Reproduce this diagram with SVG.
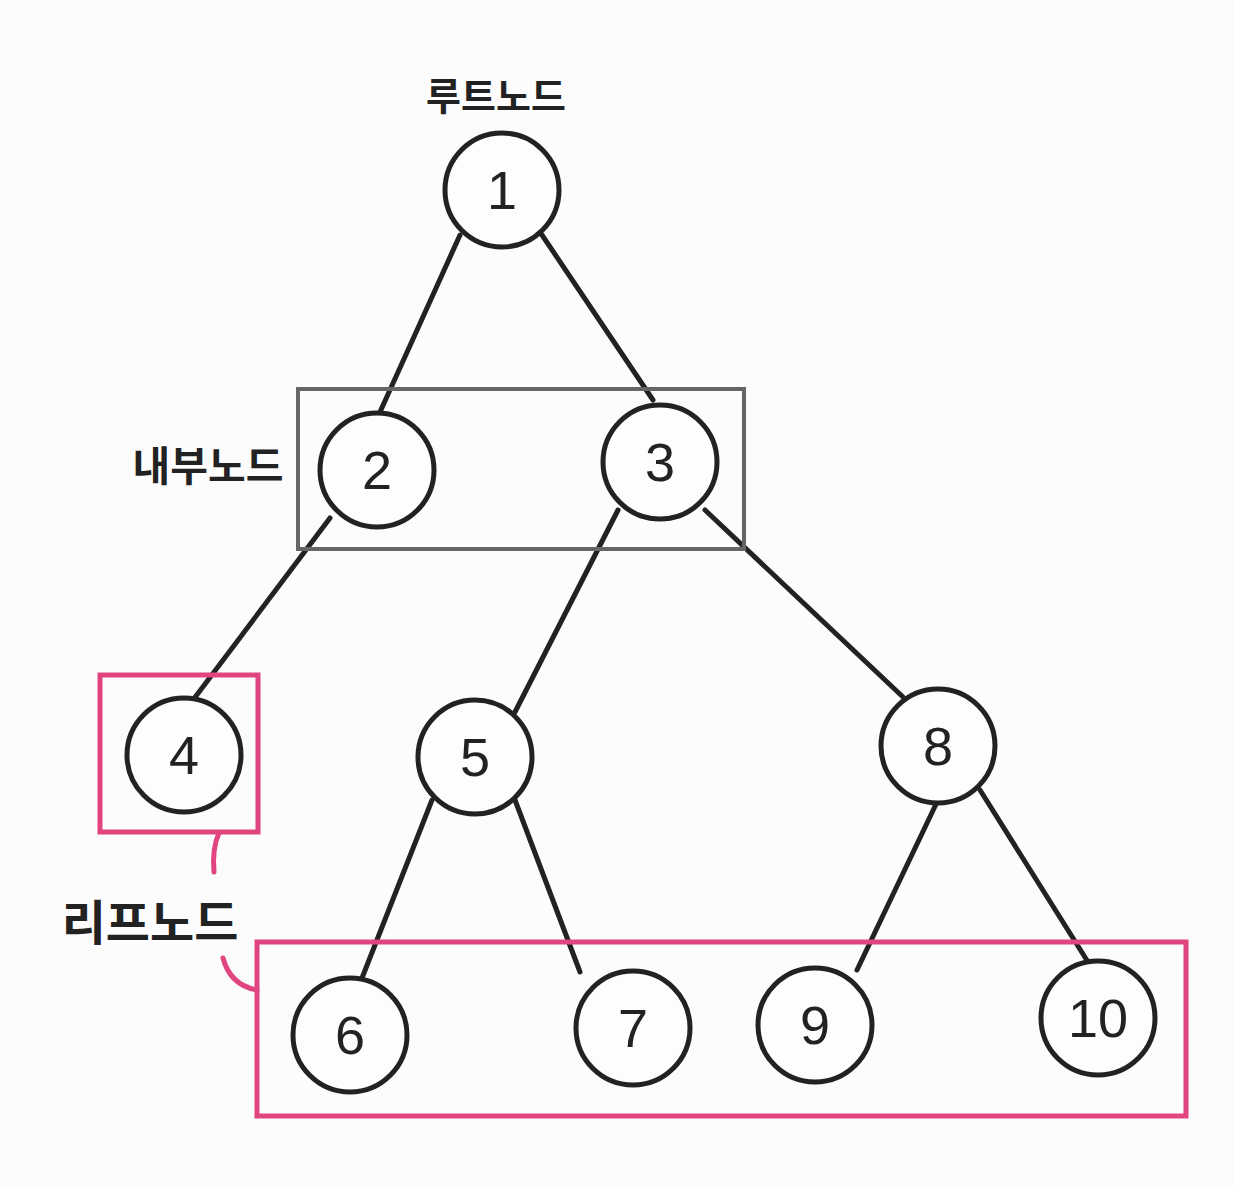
<svg xmlns="http://www.w3.org/2000/svg" width="1234" height="1186" viewBox="0 0 1234 1186">
<style>
.n circle{fill:#fdfdfd;stroke:#222;stroke-width:5}
.n text{font-family:"Liberation Sans","DejaVu Sans",sans-serif;font-size:54px;fill:#222;text-anchor:middle;dominant-baseline:central}
.e line{stroke:#222;stroke-width:5;stroke-linecap:round}
.lbl{font-family:"Noto Sans CJK KR",sans-serif;font-weight:bold;font-size:38px;fill:#222;text-anchor:middle}
.pink{fill:none;stroke:#e0457f;stroke-width:5}
</style>
<rect width="1234" height="1186" fill="#fcfcfc"/>
<g id="connectors" class="e">
<line x1="460" y1="235" x2="380" y2="412"/>
<line x1="542" y1="235" x2="653" y2="400"/>
<line x1="330" y1="518" x2="193" y2="700"/>
<line x1="618" y1="510" x2="515" y2="712"/>
<line x1="705" y1="510" x2="903" y2="697"/>
<line x1="432" y1="800" x2="362" y2="978"/>
<line x1="515" y1="800" x2="580" y2="972"/>
<line x1="938" y1="800" x2="857" y2="970"/>
<line x1="980" y1="790" x2="1088" y2="962"/>
</g>
<g id="n1" class="n"><circle cx="502" cy="190" r="57"/><text x="502" y="190">1</text></g>
<g id="n2" class="n"><circle cx="377" cy="470" r="57"/><text x="377" y="470">2</text></g>
<g id="n3" class="n"><circle cx="660" cy="462" r="57"/><text x="660" y="462">3</text></g>
<g id="n4" class="n"><circle cx="184" cy="755" r="57"/><text x="184" y="755">4</text></g>
<g id="n5" class="n"><circle cx="475" cy="757" r="57"/><text x="475" y="757">5</text></g>
<g id="n8" class="n"><circle cx="938" cy="746" r="57"/><text x="938" y="746">8</text></g>
<g id="n6" class="n"><circle cx="350" cy="1035" r="57"/><text x="350" y="1035">6</text></g>
<g id="n7" class="n"><circle cx="633" cy="1028" r="57"/><text x="633" y="1028">7</text></g>
<g id="n9" class="n"><circle cx="815" cy="1025" r="57"/><text x="815" y="1025">9</text></g>
<g id="n10" class="n"><circle cx="1098" cy="1018" r="57"/><text x="1098" y="1018">10</text></g>
<g id="internal-box"><rect x="298" y="389" width="446" height="160" fill="none" stroke="#666" stroke-width="4"/></g>
<g id="leaf-boxes">
<rect class="pink" x="100" y="675" width="158" height="157"/>
<rect class="pink" x="257" y="942" width="929" height="174"/>
<path class="pink" d="M219 833 Q212 848 214 872" stroke-linecap="round"/>
<path class="pink" d="M223 958 Q230 985 257 990" stroke-linecap="round"/>
</g>
<g id="labels">
<text class="lbl" x="496" y="110">루트노드</text>
<text class="lbl" x="208" y="481" style="font-size:41px">내부노드</text>
<text class="lbl" x="150" y="940" style="font-size:48px">리프노드</text>
</g>
</svg>
